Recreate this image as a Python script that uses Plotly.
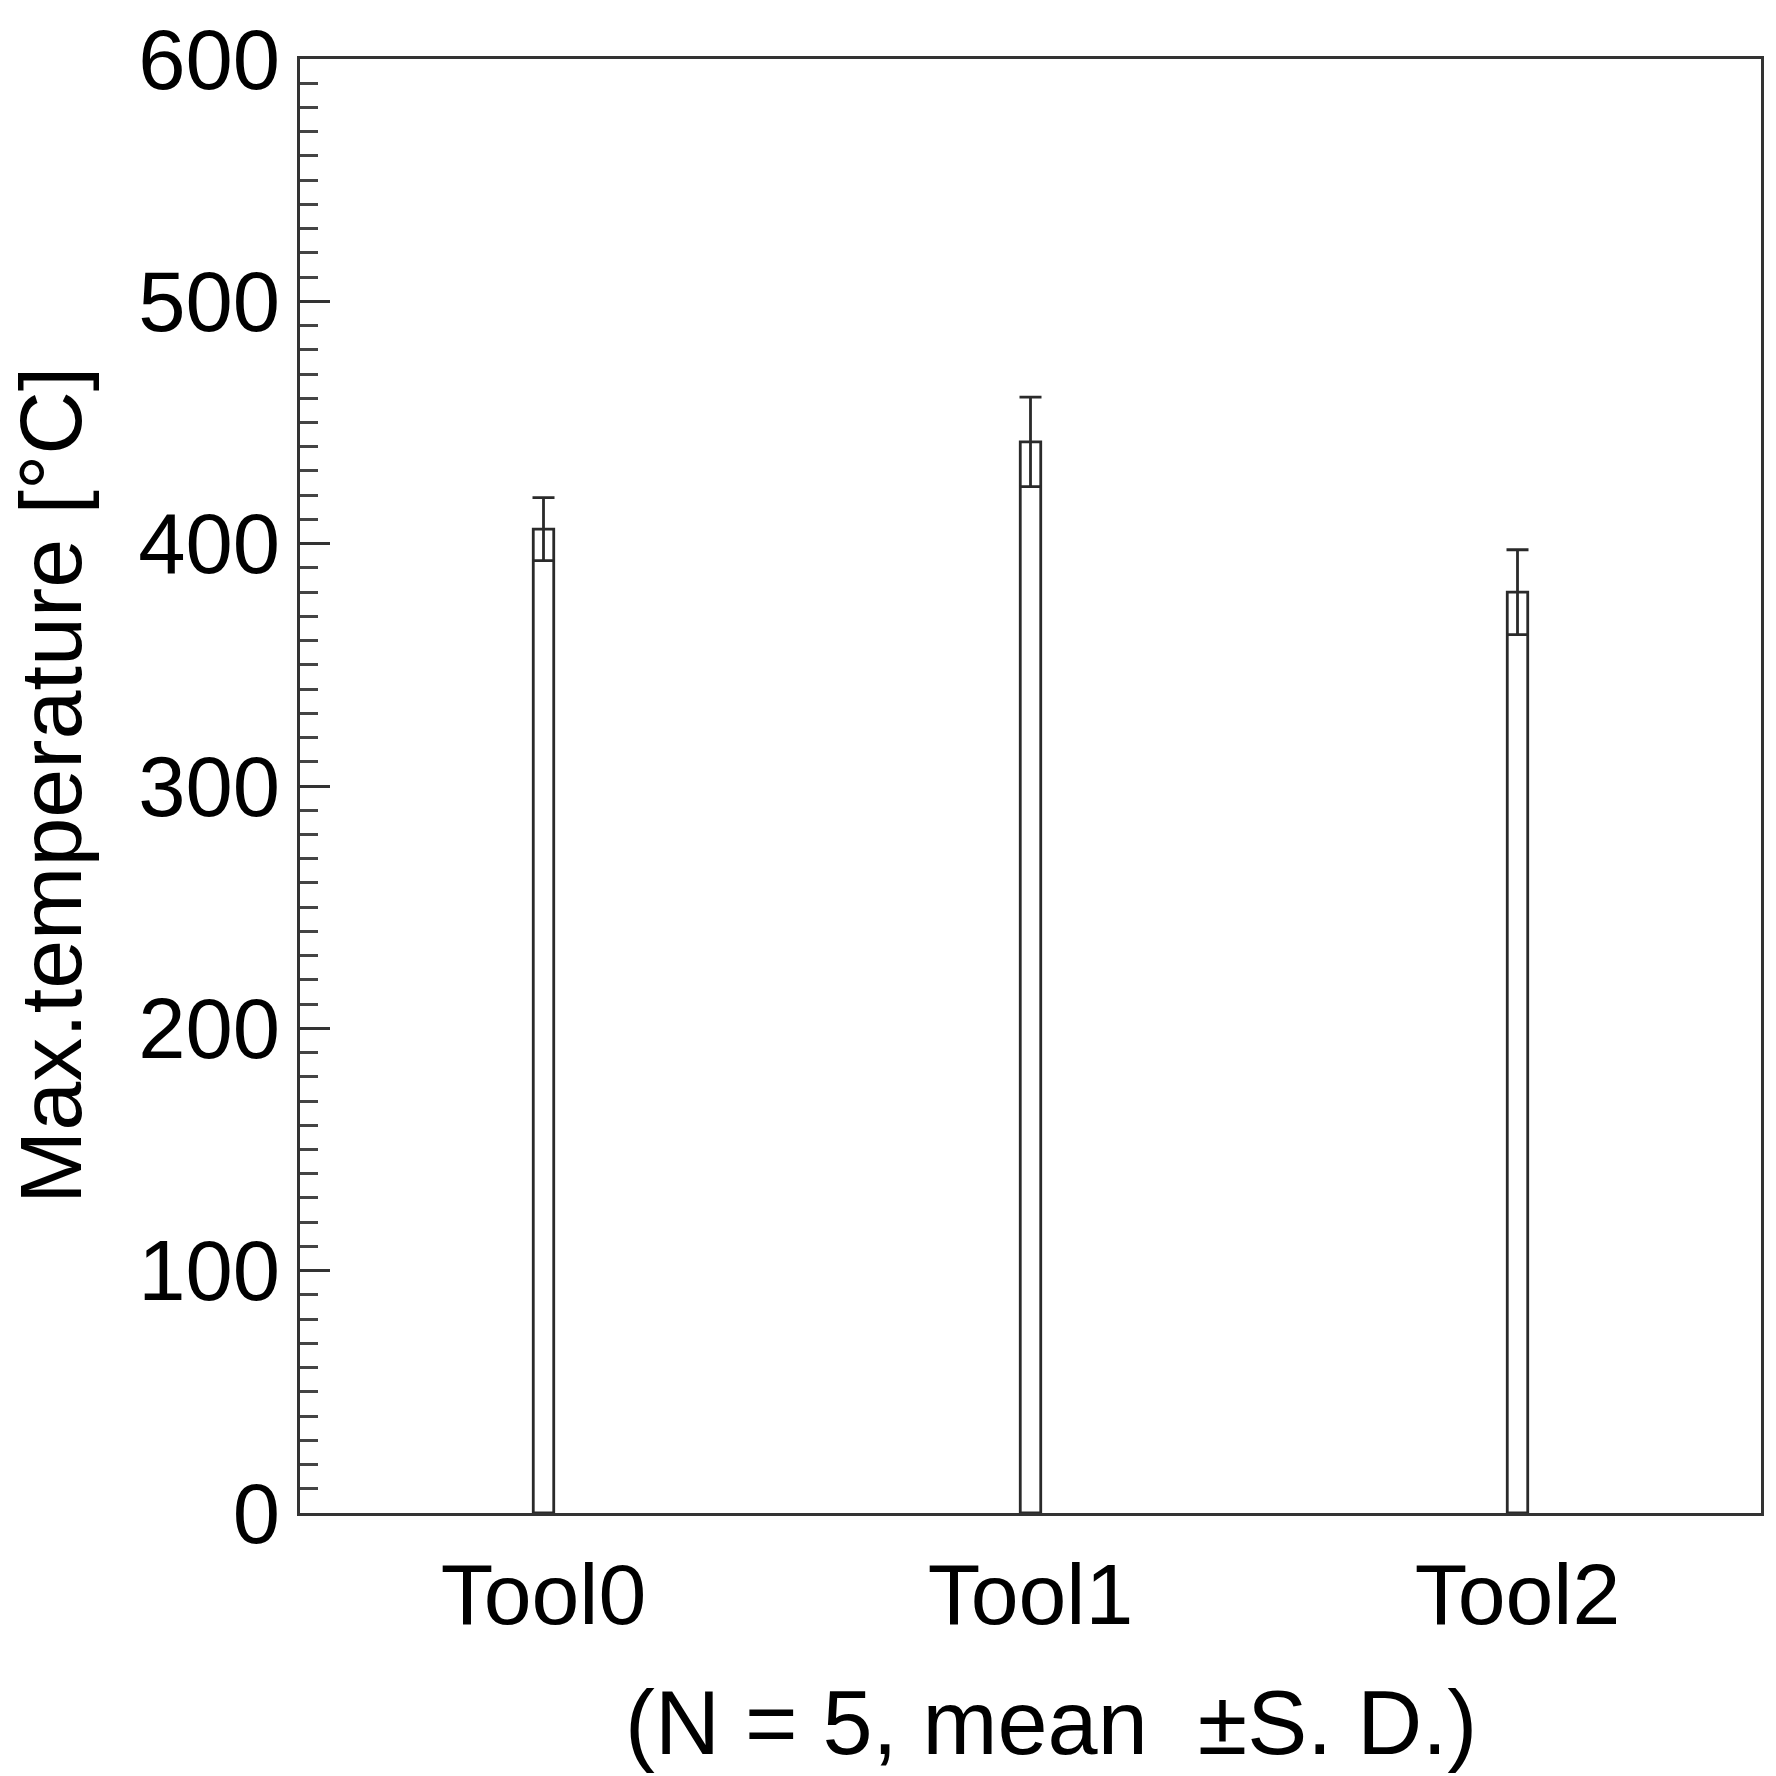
import plotly.graph_objects as go

categories = ["Tool0", "Tool1", "Tool2"]
mean_temp = [406, 442, 380]
sd_temp = [13, 18.5, 17.5]
y_tick_vals = [0, 100, 200, 300, 400, 500, 600]
y_tick_text = ["0", "100", "200", "300", "400", "500", "600"]
y_title = "Max.temperature [°C]"
x_note = "(N = 5, mean  ±S. D.)"

FONT = "Liberation Sans, Arial, sans-serif"
AX = "#333333"

fig = go.Figure()
fig.add_trace(go.Bar(
    x=categories,
    y=mean_temp,
    width=0.042,
    marker=dict(color="white", line=dict(color="#2a2a2a", width=2.8)),
    error_y=dict(type="data", array=sd_temp, visible=True,
                 color="#2a2a2a", thickness=2.8, width=11),
    showlegend=False,
))

fig.update_layout(
    width=1776, height=1776,
    margin=dict(l=300, r=14, t=57, b=263),
    paper_bgcolor="white", plot_bgcolor="white",
    font=dict(family=FONT, color="black"),
    xaxis=dict(
        type="category",
        showline=True, linecolor=AX, linewidth=3, mirror=True,
        ticks="", showgrid=False, zeroline=False,
        tickfont=dict(size=86, family=FONT, color="black"),
        ticklabelstandoff=5,
    ),
    yaxis=dict(
        range=[0, 600],
        tickmode="array", tickvals=y_tick_vals, ticktext=y_tick_text,
        showline=True, linecolor=AX, linewidth=3, mirror=True,
        ticks="inside", ticklen=30, tickwidth=3, tickcolor=AX,
        minor=dict(dtick=10, ticks="inside", ticklen=18, tickwidth=3, tickcolor="#444444"),
        showgrid=False, zeroline=False,
        tickfont=dict(size=85, family=FONT, color="black"),
        ticklabelstandoff=0,
    ),
    annotations=[
        dict(text=y_title, xref="paper", yref="paper", x=0, y=0.5,
             xanchor="center", yanchor="middle", xshift=-250, textangle=-90,
             showarrow=False, font=dict(size=88, family=FONT, color="black")),
        dict(text=x_note, xref="paper", yref="paper", x=0.5, y=0,
             xanchor="center", yanchor="middle", xshift=20, yshift=-210,
             showarrow=False, font=dict(size=90, family=FONT, color="black")),
    ],
)

fig.write_html(
    "out.html",
    config={"displayModeBar": False},
    post_script="document.body.style.margin='0';document.body.style.overflow='hidden';",
)
